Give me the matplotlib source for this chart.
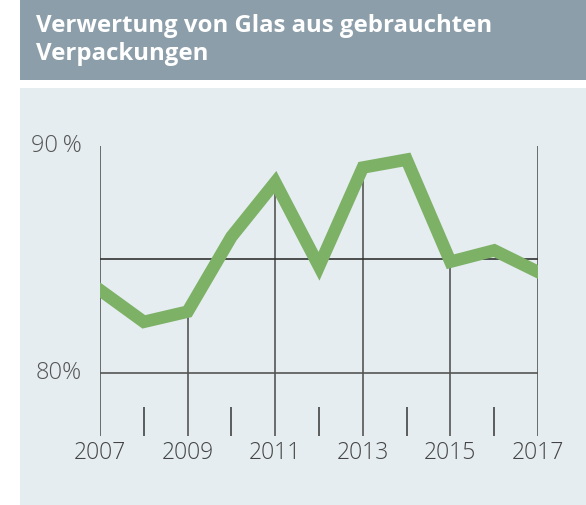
import matplotlib.pyplot as plt
from matplotlib.patches import Rectangle

# Daten: Verwertungsquote Glas (%)
jahre = [2007, 2008, 2009, 2010, 2011, 2012, 2013, 2014, 2015, 2016, 2017]
quote = [83.65, 82.25, 82.7, 86.0, 88.4, 84.7, 89.05, 89.4, 84.9, 85.4, 84.45]
y_ticks = [80, 90]
y_labels = ["80%", "90\u2009%"]
titel = "Verwertung von Glas aus gebrauchten\nVerpackungen"

W, H = 586, 505
fig = plt.figure(figsize=(W / 100, H / 100), dpi=100)
fig.patch.set_facecolor("white")

# Titelbalken + Hintergrundfeld
fig.patches.append(Rectangle((20 / W, 1 - 80 / H), 1, 80 / H, transform=fig.transFigure,
                             facecolor="#8c9ea9", edgecolor="none", zorder=-10))
fig.patches.append(Rectangle((20 / W, 0), 1, (H - 88) / H, transform=fig.transFigure,
                             facecolor="#e5edf0", edgecolor="none", zorder=-10))
fig.text(36 / W, 1 - 40 / H, titel, color="white", fontsize=17.3, fontweight="bold",
         family=["Open Sans", "DejaVu Sans"], va="center", ha="left", linespacing=1.25)

ymin, ymax = 77.22, 90
ax = fig.add_axes([100 / W, 69 / H, 438 / W, 290 / H])
ax.set_xlim(2007, 2017)
ax.set_ylim(ymin, ymax)
ax.axis("off")

grid_col = "#555555"
# Rahmenlinien links/rechts
ax.vlines([jahre[0], jahre[-1]], ymin, ymax, color=grid_col, lw=1.2, zorder=1)
# Fallinien an ungeraden Jahren
for j, q in zip(jahre[2:-1:2], quote[2:-1:2]):
    ax.vlines(j, ymin, q, color=grid_col, lw=1.2, zorder=1)
# kurze Striche an geraden Jahren
ax.vlines(jahre[1::2], ymin, 78.5, color="#444444", lw=1.2, zorder=1)
# horizontale Linien
ax.hlines([80, 85], 2007, 2017, color=["#555555", "#333333"], lw=1.2, zorder=1)

ax.plot(jahre, quote, color="#7cb166", lw=9, solid_joinstyle="miter", zorder=3)

for v, lab in zip(y_ticks, y_labels):
    ax.text(2007 - 18 * 10 / 438, v, lab, ha="right", va="center", fontsize=17,
            color="#555555", fontweight="light", family=["Open Sans", "DejaVu Sans"])
for j in jahre[::2]:
    ax.text(j, ymin - 17 / 22.7, str(j), ha="center", va="center", fontsize=16.5,
            color="#444444", fontweight="light", family=["Open Sans", "DejaVu Sans"])

fig.savefig("out.png", dpi=100)
